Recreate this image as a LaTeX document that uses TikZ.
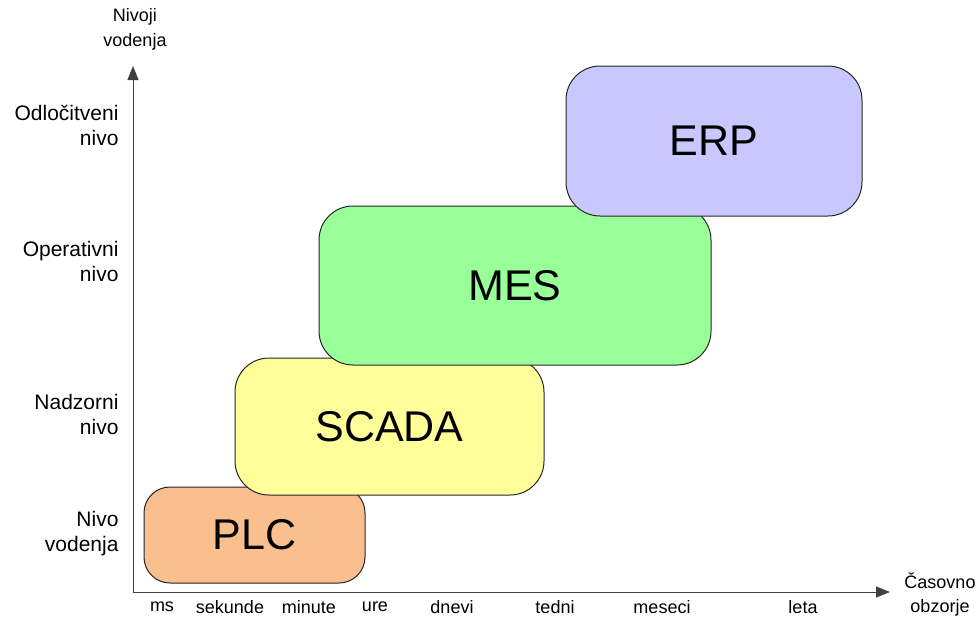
\documentclass[tikz,border=0pt]{standalone}
\usepackage{fontspec}
\setmainfont{Liberation Sans}
\usetikzlibrary{arrows.meta}
\definecolor{erpcol}{RGB}{200,200,255}
\definecolor{mescol}{RGB}{153,255,153}
\definecolor{scadacol}{RGB}{255,255,153}
\definecolor{plccol}{RGB}{250,191,143}
\tikzset{
  level/.style={draw=black!85,line width=1pt,rounded corners=34pt,
    font=\fontsize{43}{50}\selectfont,inner sep=0pt},
  axis/.style={draw=black!75,line width=1pt,-{Triangle[length=14pt,width=11pt]}},
  lvl/.style={align=right,anchor=east,font=\fontsize{21}{25}\selectfont},
  tick/.style={font=\fontsize{18}{22}\selectfont}
}
\begin{document}
\begin{tikzpicture}[x=1pt,y=-1pt]
  \useasboundingbox (0,0) rectangle (978,619);
  \coordinate (origin) at (133,592);
  \coordinate (ytop) at (133,66);
  \coordinate (xend) at (890,592);
  \draw[axis] (origin) -- (ytop);
  \draw[axis] (origin) -- (xend);
  \node[align=center,font=\fontsize{18}{25}\selectfont] (ylabel) at (135,29) {Nivoji\\vodenja};
  \node[align=center,font=\fontsize{18}{24}\selectfont] (xlabel) at (940,594) {Časovno\\obzorje};
  % nivoji
  \node[lvl] (odl) at (122,125) {Odločitveni\\nivo};
  \node[lvl] (ope) at (122,261) {Operativni\\nivo};
  \node[lvl] (nad) at (122,414) {Nadzorni\\nivo};
  \node[lvl] (vod) at (122,534) {Nivo\\vodenja};
  % casovno obzorje
  \node[tick] (ms) at (162,607) {ms};
  \node[tick] (sek) at (230,607) {sekunde};
  \node[tick] (min) at (309,607) {minute};
  \node[tick] (ure) at (375,607) {ure};
  \node[tick] (dne) at (452,607) {dnevi};
  \node[tick] (ted) at (555,607) {tedni};
  \node[tick] (mes) at (662,607) {meseci};
  \node[tick] (let) at (803,607) {leta};
  % sistemi
  \node[level,fill=plccol,rounded corners=26pt,minimum width=221pt,minimum height=96pt] (plc) at (254.5,535) {PLC};
  \node[level,fill=scadacol,minimum width=309pt,minimum height=137pt] (scada) at (389.5,426.5) {SCADA};
  \node[level,fill=mescol,minimum width=392pt,minimum height=159pt] (mesbox) at (515,285.5) {MES};
  \node[level,fill=erpcol,minimum width=296pt,minimum height=150pt] (erp) at (714,141) {ERP};
\end{tikzpicture}
\end{document}
